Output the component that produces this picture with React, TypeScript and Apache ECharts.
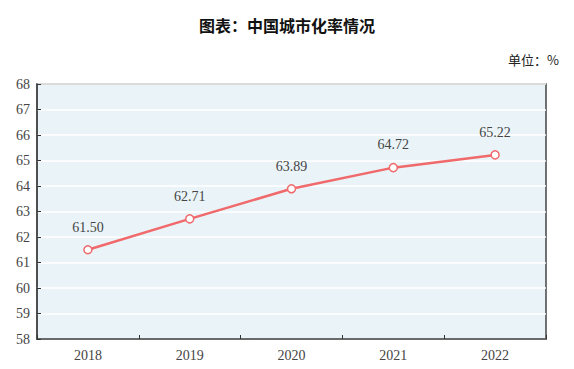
import React, { useEffect, useRef } from "react";
import * as echarts from "echarts";

const categories = ["2018", "2019", "2020", "2021", "2022"];
const rates = [61.5, 62.71, 63.89, 64.72, 65.22];
const yTicks = [58, 59, 60, 61, 62, 63, 64, 65, 66, 67, 68];

export default function App() {
  const ref = useRef<HTMLDivElement>(null);
  useEffect(() => {
    const chart = echarts.init(ref.current!, null, { renderer: "svg" });
    const serif = "'Liberation Serif', 'DejaVu Serif', serif";
    chart.setOption({
      animation: false,
      backgroundColor: "#ffffff",
      title: [
        {
          text: "图表：中国城市化率情况",
          left: "center",
          top: 12,
          textStyle: { fontSize: 16, fontWeight: "bold", color: "#111", fontFamily: "'Noto Sans CJK SC', sans-serif" },
        },
        {
          text: "单位：%",
          right: 10,
          top: 48,
          textStyle: { fontSize: 13, fontWeight: "normal", color: "#222", fontFamily: "'Noto Sans CJK SC', sans-serif" },
        },
      ],
      grid: {
        left: 37,
        right: 28,
        top: 84,
        bottom: 30,
        show: true,
        backgroundColor: "#eaf4f8",
        borderColor: "#444",
        borderWidth: 1.5,
      },
      xAxis: {
        type: "category",
        data: categories,
        boundaryGap: true,
        axisLine: { lineStyle: { color: "#444", width: 1.5 } },
        axisTick: { show: true, inside: true, length: 4, lineStyle: { color: "#333" } },
        axisLabel: { color: "#444", fontSize: 14, fontFamily: serif, margin: 9 },
        splitLine: { show: false },
      },
      yAxis: {
        type: "value",
        min: yTicks[0],
        max: yTicks[yTicks.length - 1],
        interval: 1,
        axisLine: { show: true, lineStyle: { color: "#444", width: 1.5 } },
        axisTick: { show: true, inside: true, length: 4, lineStyle: { color: "#333" } },
        axisLabel: { color: "#444", fontSize: 14, fontFamily: serif, margin: 7 },
        splitLine: { show: true, lineStyle: { color: "#ffffff", width: 1.5 } },
      },
      series: [
        {
          type: "line",
          data: rates,
          symbol: "circle",
          symbolSize: 8,
          itemStyle: { color: "#ffffff", borderColor: "#f0696b", borderWidth: 1.5 },
          lineStyle: { color: "#f0696b", width: 2.5 },
          label: {
            show: true,
            position: "top",
            distance: 11,
            color: "#444",
            fontSize: 14,
            fontFamily: serif,
            formatter: (p: any) => p.value.toFixed(2),
          },
        },
      ],
    });
    return () => chart.dispose();
  }, []);
  return <div ref={ref} style={{ position: "absolute", left: 0, top: 0, width: 574, height: 369 }} />;
}
